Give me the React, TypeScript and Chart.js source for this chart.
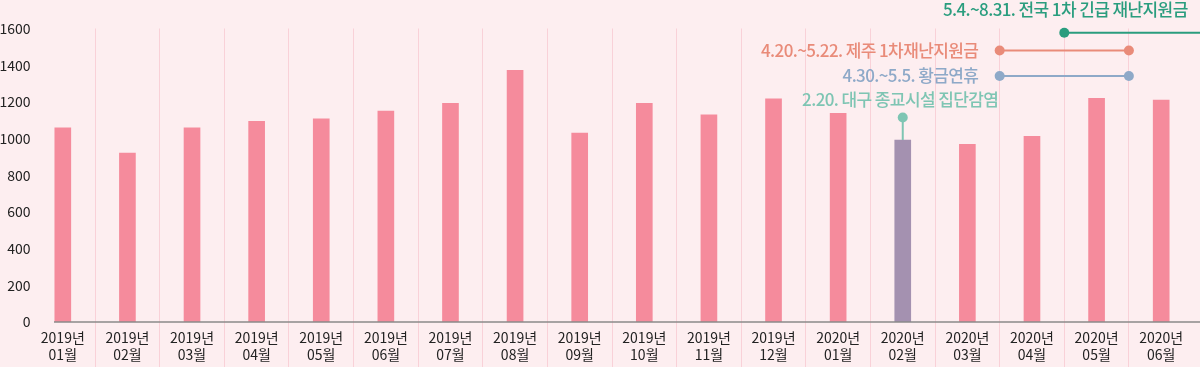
import React, { useEffect, useRef } from 'react';
import { Chart, registerables } from 'chart.js';

Chart.register(...registerables);

// ---- data ----
const yearLabels = [
  '2019년', '2019년', '2019년', '2019년', '2019년', '2019년', '2019년', '2019년', '2019년',
  '2019년', '2019년', '2019년', '2020년', '2020년', '2020년', '2020년', '2020년', '2020년',
];
const monthLabels = [
  '01월', '02월', '03월', '04월', '05월', '06월', '07월', '08월', '09월',
  '10월', '11월', '12월', '01월', '02월', '03월', '04월', '05월', '06월',
];
const values = [1059, 921, 1059, 1094, 1107, 1150, 1192, 1372, 1030, 1192, 1130, 1216, 1138, 992, 969, 1012, 1220, 1210];
const highlightIndex = 13;
const yMin = 0;
const yMax = 1600;
const yStep = 200;

// ---- event annotations (x in category units, y in data units) ----
const eventTexts = [
  '5.4.~8.31. 전국 1차 긴급 재난지원금',
  '4.20.~5.22. 제주 1차재난지원금',
  '4.30.~5.5. 황금연휴',
  '2.20. 대구 종교시설 집단감염',
];
const eventColors = ['#2a9d7e', '#e98b79', '#8ea9c8', '#7ec5b3'];
const eventStart = [15.5, 14.5, 14.5, 13];
const eventEnd = [null, 16.5, 16.5, null];
const eventLineY = [1577, 1480, 1341, 1115];
const eventTextX = [17.41, 14.17, 14.17, 14.48];
const eventTextY = [1701, 1480, 1341, 1210];

const PINK = '#f58b9c';
const PURPLE = '#a491b0';
const GRID = '#f9d1d8';
const FONT = '"Noto Sans CJK KR", "Noto Sans", sans-serif';

const annotationPlugin = {
  id: 'events',
  afterDatasetsDraw(chart: any) {
    const { ctx, scales } = chart;
    const x = scales.x;
    const y = scales.y;
    ctx.save();
    // x axis baseline
    ctx.strokeStyle = '#8a8a8a';
    ctx.lineWidth = 1.5;
    ctx.beginPath();
    const y0 = y.getPixelForValue(0);
    ctx.moveTo(chart.chartArea.left + 23.5, y0);
    ctx.lineTo(chart.width, y0);
    ctx.stroke();

    for (let i = 0; i < eventTexts.length; i++) {
      const color = eventColors[i];
      const sx = x.getPixelForValue(eventStart[i]);
      const ly = y.getPixelForValue(eventLineY[i]);
      ctx.strokeStyle = color;
      ctx.fillStyle = color;
      ctx.lineWidth = 2;
      ctx.beginPath();
      if (i === 0) {
        ctx.moveTo(sx, ly);
        ctx.lineTo(chart.width, ly);
      } else if (eventEnd[i] !== null) {
        ctx.moveTo(sx, ly);
        ctx.lineTo(x.getPixelForValue(eventEnd[i] as number), ly);
      } else {
        ctx.moveTo(sx, ly);
        ctx.lineTo(sx, y.getPixelForValue(values[highlightIndex]));
      }
      ctx.stroke();
      const dots = [sx];
      if (eventEnd[i] !== null) dots.push(x.getPixelForValue(eventEnd[i] as number));
      for (const dx of dots) {
        ctx.beginPath();
        ctx.arc(dx, ly, 5, 0, Math.PI * 2);
        ctx.fill();
      }
      ctx.font = `500 17px ${FONT}`;
      (ctx as any).letterSpacing = '-0.6px';
      ctx.textAlign = 'right';
      ctx.textBaseline = 'middle';
      ctx.fillText(eventTexts[i], x.getPixelForValue(eventTextX[i]), y.getPixelForValue(eventTextY[i]));
      (ctx as any).letterSpacing = '0px';
    }
    ctx.restore();
  },
};

export default function App() {
  const canvasRef = useRef<HTMLCanvasElement | null>(null);

  useEffect(() => {
    if (!canvasRef.current) return;
    const labels = yearLabels.map((yl, i) => [yl, monthLabels[i]]);
    const hideEdge = (c: any) => (c.index === undefined || c.index === 0 ? 'rgba(0,0,0,0)' : GRID);
    const chart = new Chart(canvasRef.current, {
      type: 'bar',
      data: {
        labels,
        datasets: [
          {
            data: values,
            backgroundColor: values.map((_, i) => (i === highlightIndex ? PURPLE : PINK)),
            borderWidth: 0,
            barThickness: 16,
          },
        ],
      },
      options: {
        responsive: false,
        animation: false,
        devicePixelRatio: 1,
        layout: { padding: { top: 28.5, right: 6.5, left: 0, bottom: 0 } },
        plugins: { legend: { display: false }, tooltip: { enabled: false } },
        scales: {
          x: {
            offset: true,
            grid: {
              offset: true,
              color: hideEdge,
              tickColor: hideEdge,
              tickLength: 45,
              lineWidth: 1,
              drawTicks: true,
            },
            border: { display: false },
            ticks: {
              color: '#222',
              padding: -37.5,
              maxRotation: 0,
              autoSkip: false,
              font: { family: FONT, size: 14, lineHeight: 1.2 },
            },
            afterFit: (s: any) => {
              s.height = 45;
            },
          },
          y: {
            min: yMin,
            max: yMax,
            grid: { display: false, drawTicks: false },
            border: { display: false },
            ticks: {
              stepSize: yStep,
              color: '#222',
              padding: 0,
              font: { family: FONT, size: 14 },
              callback: (v: any) => String(v),
            },
            afterFit: (s: any) => {
              s.width = 30.5;
            },
          },
        },
      },
      plugins: [annotationPlugin],
    });
    return () => chart.destroy();
  }, []);

  return (
    <div style={{ position: 'fixed', left: 0, top: 0, width: 1200, height: 367, background: '#fdeef0' }}>
      <canvas ref={canvasRef} width={1200} height={367} style={{ display: 'block' }} />
    </div>
  );
}
